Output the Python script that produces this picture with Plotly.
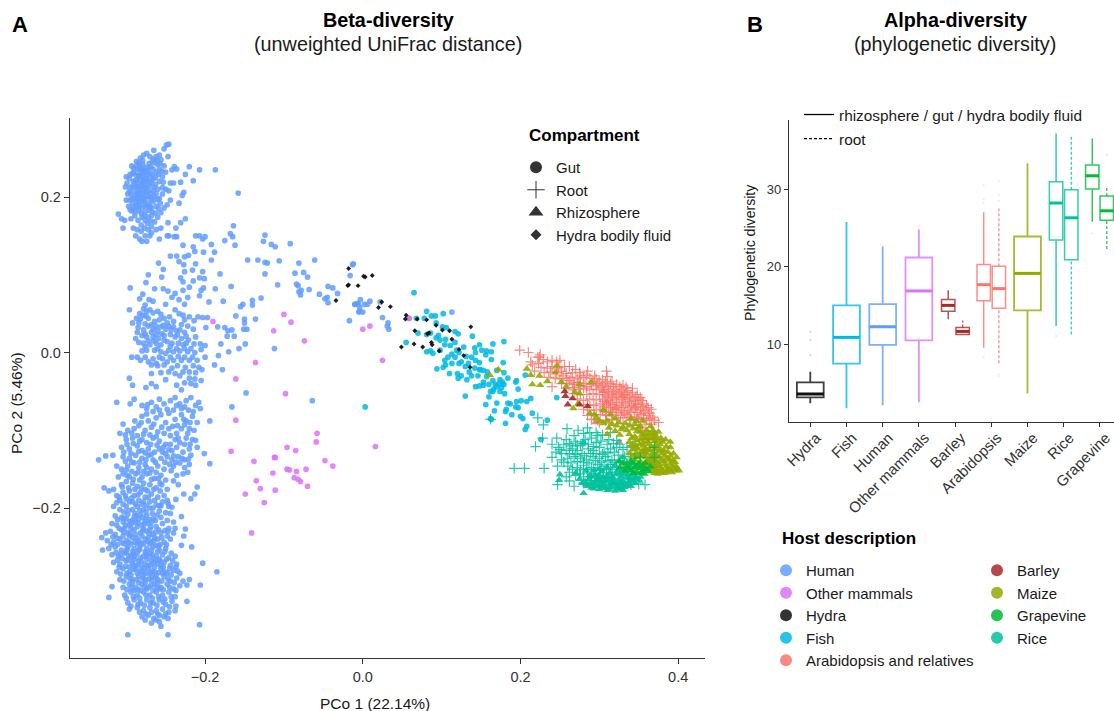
import plotly.graph_objects as go

human_gut = [
(-.187,.235),(-.158,.205),(-.207,.235),(-.220,.239),(-.215,.221),(-.225,.229),(-.231,.219),(-.239,.239),(-.236,.236),(-.242,.235),(-.227,.206),(-.229,.202),(-.233,.192),(-.225,.172),(-.231,.167),(-.237,.160),(-.247,.167),(-.240,.218),(-.246,.268),(-.249,.267),(-.252,.262),(-.265,.260),(-.247,.252),
(-.310,.178),(-.304,.160),(-.301,.213),(-.293,.240),(-.290,.232),(-.287,.246),(-.282,.250),(-.278,.254),(-.274,.256),(-.270,.252),(-.262,.252),(-.258,.254),(-.256,.248),(-.252,.240),(-.250,.232),(-.254,.226),(-.258,.220),(-.263,.216),(-.266,.223),(-.270,.230),(-.275,.238),(-.279,.242),(-.283,.236),(-.287,.228),(-.291,.220),(-.295,.212),(-.298,.204),(-.300,.196),(-.297,.188),(-.293,.182),(-.289,.176),(-.285,.170),(-.281,.164),(-.277,.160),(-.272,.158),(-.268,.162),(-.264,.168),(-.260,.174),(-.256,.180),(-.252,.186),(-.248,.190),(-.244,.196),(-.250,.210),(-.254,.204),(-.258,.198),(-.262,.204),(-.266,.208),(-.270,.214),(-.274,.220),(-.278,.226),(-.282,.222),(-.286,.216),(-.290,.210),(-.294,.204),(-.290,.198),(-.286,.204),(-.282,.210),(-.278,.216),(-.274,.206),(-.270,.200),(-.266,.194),(-.262,.188),(-.268,.186),(-.272,.192),(-.276,.198),(-.280,.200),(-.284,.194),(-.288,.188),(-.292,.192),(-.296,.196),(-.280,.186),(-.276,.180),(-.272,.174),(-.268,.176),(-.284,.182),(-.280,.174),(-.276,.170),(-.286,.236),(-.282,.232),(-.278,.234),(-.274,.228),(-.270,.224),(-.266,.236),(-.262,.232),(-.258,.236),(-.254,.212),(-.246,.208),(-.244,.218),(-.300,.226),(-.296,.224),(-.292,.230),(-.288,.214),(-.284,.204),(-.276,.212),(-.272,.208),(-.268,.218),(-.264,.244),(-.260,.242),(-.284,.244),(-.280,.218),(-.276,.190),(-.260,.210),(-.306,.172),(-.302,.170),(-.294,.172),(-.291,.160),(-.286,.158),(-.281,.156),(-.276,.150),(-.274,.143),(-.280,.143),(-.283,.146),(-.288,.150),(-.270,.150),(-.258,.146),(-.262,.158),(-.268,.154),(-.256,.160),(-.246,.150),
(-.287,.222),(-.283,.227),(-.279,.231),(-.275,.224),(-.271,.219),(-.267,.229),(-.263,.225),(-.259,.229),(-.255,.233),(-.281,.214),(-.285,.209),(-.289,.203),(-.293,.198),(-.277,.207),(-.273,.201),(-.269,.205),(-.265,.201),(-.261,.197),(-.257,.192),(-.283,.199),(-.279,.194),(-.275,.187),(-.271,.183),(-.287,.193),(-.291,.186),(-.295,.184),(-.277,.222),(-.273,.234),(-.269,.239),(-.265,.249),(-.261,.247),(-.257,.243),(-.253,.219),(-.279,.204),(-.283,.189),(-.267,.181),(-.263,.179),(-.259,.185),(-.273,.166),(-.277,.175),(-.269,.169),(-.281,.179),(-.285,.187),(-.289,.181),(-.299,.218),(-.295,.229),(-.291,.237),(-.287,.240),(-.283,.241),(-.279,.247),(-.271,.243),(-.267,.246),(-.272,.237),(-.276,.232),(-.280,.237),(-.284,.228),(-.288,.221),(-.292,.214),(-.296,.207),(-.286,.198),(-.278,.196),(-.274,.213),(-.264,.212),(-.268,.197),(-.270,.188),
(-.164,.163),(-.168,.153),(-.165,.149),(-.175,.144),(-.162,.138),(-.124,.151),(-.126,.143),(-.116,.139),(-.111,.136),(-.092,.140),(-.146,.119),(-.133,.119),(-.124,.116),(-.121,.115),(-.106,.118),(-.081,.115),(-.061,.119),(-.086,.102),(-.075,.103),(-.070,.097),(-.124,.101),(-.108,.087),(-.084,.088),(-.082,.086),(-.078,.080),(-.081,.078),(-.079,.074),(-.068,.081),(-.055,.075),(-.044,.085),(-.038,.083),(-.032,.076),(-.045,.071),(-.048,.069),(-.044,.064),(-.013,.113),(-.016,.099),(-.017,.041),(-.010,.062),(-.006,.063),(-.004,.053),
(-.129,.070),(-.140,.067),(-.140,.061),(-.152,.062),(-.155,.059),(-.161,.047),(-.136,.043),(-.150,.043),(-.150,.038),(-.151,.030),(-.147,.030),(-.167,.085),(-.181,.101),(-.177,.066),(-.195,.065),(-.187,.082),(-.112,.005),(-.149,.011),(-.157,.005),(-.170,.001),(-.183,-.004),(-.188,-.016),(-.178,-.022),(-.180,.011),(-.172,.021),(-.163,.021),(-.166,.029),(-.171,.028),(-.175,.032),(-.184,.033),(-.199,.032),(-.197,.045),(-.203,.045),(-.209,.046),
(-.212,.150),(-.207,.150),(-.200,.149),(-.203,.146),(-.192,.139),(-.188,.129),(-.202,.129),(-.213,.130),(-.215,.136),(-.228,.138),(-.236,.149),(-.239,.149),(-.248,.150),(-.244,.124),(-.236,.124),(-.226,.123),(-.221,.125),(-.233,.117),(-.227,.113),(-.212,.114),(-.192,.119),(-.259,.115),(-.253,.107),(-.255,.097),(-.272,.100),(-.275,.090),(-.295,.083),(-.264,.082),(-.253,.082),(-.247,.079),(-.238,.076),(-.228,.080),(-.226,.104),(-.216,.106),(-.203,.104),(-.207,.096),(-.201,.095),(-.215,.092),(-.231,.096),(-.228,.091),(-.220,.084),(-.202,.083),(-.205,.080),(-.279,.075),(-.283,.069),(-.271,.068),(-.266,.066),(-.276,.061),(-.242,.071),(-.233,.068),(-.222,.071),(-.207,.073),(-.250,.062),(-.226,.062),(-.238,.055),(-.296,.055),
(-.278,.056),(-.274,.053),(-.270,.055),(-.283,.050),(-.279,.048),(-.275,.047),(-.287,.044),(-.282,.043),(-.272,.044),(-.266,.051),(-.260,.053),(-.256,.049),(-.252,.044),(-.258,.042),(-.264,.040),(-.245,.046),(-.240,.040),(-.248,.038),(-.253,.035),(-.233,.050),(-.228,.048),(-.226,.042),(-.220,.046),(-.214,.041),(-.230,.036),(-.222,.034),(-.215,.030),(-.285,.032),(-.278,.029),(-.272,.034),(-.266,.030),(-.260,.028),(-.250,.030),(-.243,.029),(-.236,.028),(-.226,.026),(-.280,.022),(-.274,.020),(-.266,.020),(-.259,.018),(-.252,.022),(-.238,.020),(-.230,.018),(-.221,.016),(-.212,.020),(-.206,.011),(-.200,.009),(-.284,.013),(-.278,.012),(-.270,.010),(-.262,.012),(-.256,.010),(-.248,.014),(-.242,.012),(-.236,.005),(-.228,.010),(-.218,.005),(-.205,.004),(-.280,.002),(-.274,.003),(-.264,.003),(-.256,.001),(-.250,-.001),(-.240,.001),(-.232,.002),(-.222,.001),(-.213,.000),(-.293,-.006),(-.286,-.006),(-.272,-.012),(-.266,-.008),(-.258,-.006),(-.248,-.012),(-.240,-.010),(-.230,-.010),(-.220,-.010),(-.210,-.010),(-.200,-.006),(-.268,-.016),(-.260,-.017),(-.252,-.016),(-.242,-.020),(-.235,-.017),(-.225,-.019),(-.215,-.017),(-.208,-.019),(-.204,-.022),(-.296,-.033),(-.292,-.042),(-.268,-.027),(-.250,-.035),(-.232,-.030),(-.226,-.039),(-.220,-.033),(-.213,-.034),(-.205,-.036),(-.218,-.040),(-.275,-.045),(-.268,-.040),(-.262,-.044),(-.236,-.042),(-.230,-.048),(-.212,-.042),
(-.012,.114),(-.003,.068),(-.010,.062),(-.007,.063),(.002,.062),(.006,.062),(.009,.066),(-.004,.058),(-.005,.052),(.000,.052),(.025,.045),(.022,.065),(.032,.038),(.031,.034),(.033,.030),(.058,.044),(.113,.052),
(-.148,-.052),(-.166,-.070),(-.064,-.062),(-.194,-.088),(-.194,-.143),(-.201,-.130),(-.210,-.122),(-.212,-.113),(-.210,-.173),(-.213,-.182),(-.218,-.188),(-.227,-.182),(-.237,-.189),(-.247,-.194),(-.242,-.199),(-.244,-.207),(-.230,-.211),(-.225,-.227),(-.227,-.236),(-.217,-.250),(-.230,-.248),(-.203,-.271),(-.185,-.282),(-.206,-.299),(-.220,-.292),(-.223,-.299),(-.207,-.350),(-.247,-.363),(-.298,-.363),(-.223,-.320),(-.237,-.326),(-.335,-.138),(-.326,-.133),(-.317,-.132),(-.312,-.064),(-.328,-.174),(-.322,-.315),(-.318,-.301),(-.331,-.238),(-.330,-.254),
(-.295,-.066),(-.290,-.060),(-.280,-.068),(-.274,-.072),(-.268,-.064),(-.258,-.060),(-.252,-.066),(-.244,-.062),(-.238,-.058),(-.232,-.066),(-.224,-.062),(-.218,-.058),(-.212,-.068),(-.206,-.072),(-.280,-.082),(-.272,-.088),(-.262,-.084),(-.256,-.080),(-.250,-.090),(-.238,-.086),(-.230,-.080),(-.224,-.088),(-.216,-.082),(-.210,-.090),(-.304,-.092),(-.298,-.100),(-.290,-.098),(-.284,-.094),(-.276,-.100),(-.268,-.096),(-.260,-.102),(-.252,-.104),(-.246,-.098),(-.236,-.104),(-.230,-.098),(-.222,-.104),(-.214,-.100),(-.308,-.104),(-.300,-.112),(-.292,-.110),(-.280,-.112),(-.274,-.116),(-.266,-.110),(-.258,-.114),(-.250,-.118),(-.238,-.112),(-.232,-.116),(-.224,-.110),(-.216,-.112),(-.306,-.122),(-.296,-.124),(-.286,-.120),(-.280,-.126),(-.272,-.124),(-.264,-.128),(-.258,-.124),(-.250,-.130),(-.242,-.126),(-.236,-.122),(-.228,-.128),(-.220,-.124),(-.304,-.134),(-.296,-.136),(-.288,-.132),(-.280,-.136),(-.272,-.132),(-.266,-.138),(-.256,-.136),(-.248,-.134),(-.242,-.138),(-.234,-.134),(-.226,-.138),(-.218,-.132),(-.312,-.146),(-.306,-.150),(-.298,-.146),(-.290,-.142),(-.284,-.148),(-.276,-.144),(-.268,-.150),(-.260,-.146),(-.252,-.150),(-.240,-.146),(-.232,-.142),(-.226,-.148),(-.220,-.144),(-.310,-.160),(-.304,-.156),(-.296,-.160),(-.288,-.156),(-.280,-.160),(-.274,-.156),(-.264,-.162),(-.256,-.158),(-.250,-.164),(-.236,-.158),(-.228,-.156),(-.306,-.170),(-.300,-.166),(-.292,-.168),(-.286,-.172),(-.278,-.168),(-.270,-.170),(-.262,-.174),(-.255,-.170),(-.248,-.176),(-.316,-.176),(-.322,-.178),(-.312,-.184),(-.304,-.180),(-.296,-.178),(-.290,-.184),(-.282,-.180),(-.276,-.176),(-.268,-.182),(-.260,-.186),(-.252,-.184),(-.308,-.190),(-.300,-.188),(-.292,-.192),(-.284,-.190),(-.276,-.186),(-.270,-.192),(-.262,-.196),(-.254,-.192),(-.246,-.198),(-.316,-.198),(-.308,-.202),(-.300,-.198),(-.292,-.202),(-.286,-.198),(-.278,-.202),(-.270,-.200),(-.258,-.204),(-.250,-.206),(-.314,-.210),(-.306,-.212),(-.298,-.208),(-.290,-.212),(-.282,-.208),(-.274,-.210),(-.266,-.214),(-.256,-.212),(-.248,-.216),(-.240,-.218),(-.318,-.220),(-.312,-.222),(-.304,-.218),(-.296,-.222),(-.288,-.218),(-.280,-.222),(-.272,-.220),(-.262,-.224),(-.254,-.220),(-.246,-.226),(-.238,-.226),(-.326,-.232),(-.320,-.230),(-.314,-.234),(-.306,-.228),(-.298,-.232),(-.290,-.228),(-.282,-.232),(-.274,-.230),(-.266,-.234),(-.256,-.232),(-.248,-.236),(-.240,-.232),(-.324,-.242),(-.316,-.244),(-.308,-.240),(-.300,-.242),(-.292,-.238),(-.284,-.242),(-.276,-.240),(-.268,-.244),(-.260,-.240),(-.252,-.244),(-.244,-.240),(-.322,-.252),(-.314,-.250),(-.306,-.254),(-.298,-.250),(-.290,-.252),(-.282,-.248),(-.274,-.252),(-.266,-.250),(-.258,-.254),(-.250,-.252),(-.318,-.260),(-.310,-.262),(-.302,-.258),(-.294,-.262),(-.286,-.258),(-.278,-.262),(-.270,-.258),(-.262,-.262),(-.254,-.260),(-.246,-.264),(-.238,-.262),(-.316,-.270),(-.308,-.272),(-.300,-.268),(-.292,-.272),(-.284,-.268),(-.276,-.272),(-.268,-.268),(-.260,-.272),(-.252,-.270),(-.244,-.274),(-.236,-.272),(-.312,-.282),(-.304,-.278),(-.296,-.282),(-.288,-.278),(-.280,-.282),(-.272,-.278),(-.264,-.282),(-.256,-.278),(-.248,-.284),(-.240,-.280),(-.232,-.284),(-.308,-.292),(-.300,-.288),(-.292,-.292),(-.284,-.288),(-.276,-.292),(-.268,-.288),(-.260,-.292),(-.252,-.288),(-.244,-.294),(-.236,-.290),(-.228,-.294),(-.304,-.302),(-.296,-.298),(-.288,-.302),(-.280,-.298),(-.272,-.302),(-.264,-.298),(-.256,-.302),(-.248,-.298),(-.240,-.304),(-.232,-.300),(-.302,-.312),(-.294,-.308),(-.286,-.312),(-.278,-.308),(-.270,-.312),(-.262,-.308),(-.254,-.312),(-.246,-.308),(-.238,-.314),(-.298,-.322),(-.290,-.318),(-.282,-.322),(-.274,-.318),(-.266,-.322),(-.258,-.318),(-.250,-.324),(-.242,-.320),(-.296,-.330),(-.286,-.328),(-.278,-.332),(-.270,-.328),(-.262,-.332),(-.254,-.330),(-.246,-.334),(-.238,-.332),(-.280,-.340),(-.272,-.338),(-.265,-.342),(-.258,-.338),(-.250,-.336),(-.276,-.344),(-.268,-.348),(-.262,-.344),(-.256,-.352),(-.258,-.346),
(-.300,-.214),(-.292,-.216),(-.284,-.214),(-.276,-.216),(-.268,-.218),(-.302,-.226),(-.294,-.226),(-.286,-.224),(-.278,-.226),(-.270,-.228),(-.304,-.236),(-.296,-.236),(-.288,-.234),(-.280,-.236),(-.272,-.238),(-.264,-.238),(-.302,-.246),(-.294,-.246),(-.286,-.246),(-.278,-.246),(-.270,-.246),(-.262,-.248),(-.300,-.256),(-.292,-.256),(-.284,-.254),(-.276,-.256),(-.268,-.254),(-.260,-.256),(-.298,-.266),(-.290,-.266),(-.282,-.264),(-.274,-.266),(-.266,-.264),(-.258,-.266),(-.296,-.276),(-.288,-.274),(-.280,-.276),(-.272,-.274),(-.264,-.276),(-.256,-.274),(-.294,-.286),(-.286,-.284),(-.278,-.286),(-.270,-.284),(-.262,-.286),(-.254,-.284),(-.292,-.296),(-.284,-.296),(-.276,-.296),(-.268,-.294),(-.260,-.296),(-.290,-.306),(-.282,-.306),(-.274,-.304),(-.266,-.306),(-.258,-.304),
(-.303,-.205),(-.297,-.203),(-.289,-.207),(-.283,-.203),(-.275,-.205),(-.267,-.207),(-.261,-.209),(-.311,-.215),(-.303,-.213),(-.295,-.217),(-.287,-.210),(-.279,-.212),(-.271,-.215),(-.263,-.216),(-.309,-.226),(-.301,-.222),(-.293,-.220),(-.285,-.219),(-.277,-.220),(-.269,-.224),(-.259,-.228),(-.251,-.229),(-.317,-.237),(-.311,-.239),(-.303,-.231),(-.295,-.233),(-.287,-.239),(-.279,-.229),(-.271,-.233),(-.263,-.231),(-.255,-.238),(-.247,-.230),(-.319,-.247),(-.311,-.247),(-.305,-.245),(-.297,-.244),(-.289,-.244),(-.281,-.245),(-.273,-.243),(-.265,-.242),(-.257,-.247),(-.249,-.247),(-.313,-.257),(-.307,-.259),(-.299,-.253),(-.291,-.259),(-.283,-.253),(-.275,-.259),(-.267,-.260),(-.259,-.249),(-.251,-.256),(-.243,-.258),(-.311,-.267),(-.305,-.265),(-.297,-.261),(-.289,-.262),(-.281,-.269),(-.273,-.262),(-.265,-.270),(-.257,-.268),(-.249,-.266),(-.241,-.268),(-.309,-.276),(-.301,-.275),(-.293,-.269),(-.285,-.273),(-.277,-.278),(-.269,-.273),(-.261,-.267),(-.253,-.276),(-.245,-.278),(-.237,-.276),(-.307,-.285),(-.299,-.284),(-.291,-.279),(-.283,-.281),(-.275,-.284),(-.267,-.281),(-.259,-.283),(-.251,-.282),(-.243,-.286),(-.235,-.281),(-.303,-.294),(-.295,-.291),(-.287,-.292),(-.279,-.290),(-.271,-.291),(-.263,-.290),(-.255,-.294),(-.247,-.291),(-.239,-.296),(-.299,-.305),(-.293,-.302),(-.285,-.305),(-.277,-.302),(-.269,-.300),(-.261,-.302),(-.253,-.305),(-.245,-.302),(-.237,-.306),(-.300,-.316),(-.291,-.314),(-.283,-.316),(-.275,-.312),(-.267,-.316),(-.259,-.314),(-.251,-.317),(-.243,-.314),(-.294,-.326),(-.285,-.324),(-.277,-.325),(-.269,-.322),(-.261,-.325),(-.253,-.321),(-.245,-.327),(-.283,-.334),(-.275,-.336),(-.268,-.334),(-.260,-.336),(-.252,-.340),(-.247,-.342),
(-.309,-.186),(-.301,-.184),(-.293,-.187),(-.285,-.183),(-.278,-.192),(-.272,-.186),(-.264,-.190),(-.256,-.197),(-.248,-.190),(-.312,-.193),(-.304,-.195),(-.296,-.192),(-.288,-.195),(-.280,-.195),(-.274,-.197),(-.266,-.200),(-.258,-.197),(-.305,-.173),(-.297,-.174),(-.289,-.176),(-.281,-.174),(-.273,-.178),(-.265,-.176),(-.257,-.178),(-.300,-.151),(-.293,-.153),(-.285,-.154),(-.278,-.153),(-.270,-.155),(-.262,-.154),(-.303,-.128),(-.294,-.130),(-.284,-.127),(-.276,-.129),(-.268,-.131),(-.254,-.128),(-.246,-.125),(-.240,-.133),(-.293,-.104),(-.286,-.107),(-.278,-.105),(-.270,-.106),(-.262,-.108),(-.244,-.107),(-.235,-.094),(-.226,-.093),(-.220,-.098),(-.274,-.079),(-.266,-.076),(-.258,-.074),(-.248,-.073),(-.240,-.074),(-.230,-.072),(-.221,-.074),
(-.292,.038),(-.284,.038),(-.276,.037),(-.268,.036),(-.262,.034),(-.256,.033),(-.246,.034),(-.240,.033),(-.232,.029),(-.286,.026),(-.276,.024),(-.268,.026),(-.262,.023),(-.255,.024),(-.244,.023),(-.235,.023),(-.224,.021),(-.288,.018),(-.272,.015),(-.265,.015),(-.252,.016),(-.244,.008),(-.234,.012),(-.224,.012),(-.214,.011),(-.276,.008),(-.260,.005),(-.246,.003),(-.226,.005),(-.282,-.010),(-.276,-.006),(-.262,-.014),(-.254,-.008),(-.244,-.006),(-.234,-.005),(-.226,-.006),(-.216,-.006),(-.256,-.026),(-.246,-.025),(-.238,-.027),(-.228,-.025),(-.220,-.025),(-.212,-.026),
(-.301,-.140),(-.293,-.141),(-.283,-.141),(-.275,-.138),(-.263,-.141),(-.251,-.141),(-.245,-.144),(-.237,-.141),(-.229,-.136),(-.221,-.137),(-.299,-.118),(-.291,-.117),(-.283,-.114),(-.269,-.118),(-.261,-.119),(-.253,-.122),(-.244,-.118),(-.234,-.110),(-.226,-.118),(-.219,-.118),(-.301,-.106),(-.289,-.088),(-.281,-.090),(-.265,-.092),(-.255,-.096),(-.241,-.095),(-.227,-.086),(-.219,-.090),(-.273,-.067),(-.262,-.070),(-.246,-.078),(-.236,-.068),(-.226,-.070),(-.215,-.076),(-.208,-.064),(-.259,-.162),(-.268,-.163),(-.283,-.164),(-.291,-.163),(-.299,-.158),(-.274,-.148),(-.257,-.168),(-.243,-.152),(-.222,-.154),(-.240,-.165),(-.234,-.170)]

mammals_gut = [(-.190,.040),(-.100,.049),(-.091,.039),(-.113,.028),(-.074,.015),(-.136,-.013),(-.161,-.034),(-.098,-.053),(-.161,-.087),(-.058,-.104),(-.059,-.115),(-.096,-.122),(-.085,-.126),(-.167,-.127),(-.138,-.140),(-.112,-.135),(-.111,-.135),(-.048,-.139),(-.038,-.146),(-.114,-.155),(-.096,-.150),(-.093,-.151),(-.084,-.153),(-.072,-.150),(-.087,-.161),(-.082,-.163),(-.079,-.166),(-.135,-.165),(-.130,-.175),(-.111,-.177),(-.070,-.172),(-.149,-.182),(-.125,-.193),(-.141,-.232),(.000,.030),(.009,.034),(.025,-.010),(.016,-.121),(.059,.044)]

hydra_fluid = [(-.018,.108),(.003,.097),(.001,.098),(.012,.099),(-.018,.087),(-.019,.086),(-.006,.086),(.024,.065),(.020,.058),(.035,.059),(.055,.048),(.054,.043),(.069,.043),(.081,.042),(.137,.033),(.066,.028),(.093,.035),(.101,.029),(.110,.028),(.082,.024),(.084,.025),(.113,.017),(.087,.013),(.088,.010),(.065,.011),(.076,.007),(.049,.007),(.097,.002),(.122,.004),(.128,-.004),(.136,-.019),(-.034,.067)]

fish_gut = [(.065,.077),(.003,-.070),(.081,.053),(.087,.047),(.092,.047),(.102,.050),(.078,.044),(.068,.044),(.093,.038),(.101,.033),(.106,.032),(.117,.027),(.121,.024),(.070,.025),(.081,.023),(.086,.025),(.096,.022),(.093,.019),(.139,.021),(.055,.013),(.105,.017),(.098,.016),(.117,.013),(.104,.010),(.111,.009),(.165,.011),(.179,.014),(.148,.010),(.128,.007),(.142,.006),(.081,.001),(.089,-.001),(.086,.002),(.098,.003),(.113,-.002),(.119,.003),(.122,.000),(.151,.003),(.143,.000),(.157,.002),(.163,.001),(.108,-.006),(.104,-.010),(.117,-.006),(.131,-.005),(.138,-.006),(.148,-.013),(.156,-.003),(.163,-.009),(.178,-.013),(.143,-.010),(.113,-.014),(.122,-.014),(.105,-.016),(.102,-.019),(.094,-.021),(.134,-.014),(.142,-.020),(.149,-.022),(.153,-.023),(.158,-.025),(.170,-.023),(.179,-.026),(.110,-.027),(.120,-.027),(.125,-.030),(.138,-.030),(.121,-.033),(.132,-.035),(.157,-.031),(.153,-.038),(.165,-.036),(.174,-.035),(.184,-.033),(.195,-.036),(.194,-.038),(.206,-.029),(.179,-.041),(.173,-.040),(.177,-.038),(.143,-.044),(.148,-.043),(.153,-.042),(.166,-.047),(.162,-.050),(.170,-.044),(.130,-.056),(.160,-.057),(.174,-.050),(.180,-.053),(.197,-.047),(.246,-.058),(.165,-.050),(.156,-.067),(.170,-.065),(.184,-.065),(.187,-.066),(.195,-.063),(.201,-.062),(.213,-.059),(.208,-.063),(.182,-.073),(.194,-.070),(.197,-.071),(.167,-.075),(.181,-.076),(.189,-.080),(.200,-.082),(.215,-.078),(.203,-.085),(.162,-.085),(.163,-.086),(.181,-.091),(.234,-.087),(.208,-.095),(.206,-.099),(.226,-.112),(.280,-.116),(.148,-.022),(.130,-.018),(.125,-.012),(.135,-.025),(.146,-.030),(.168,-.041),(.176,-.045),(.160,-.041)]

arabidopsis_root = [(.199,.003),(.210,.000),(.225,-.003),(.224,-.006),(.222,-.006),(.213,-.012),(.215,-.016),(.223,-.014),(.229,-.009),(.234,-.012),(.240,-.010),(.246,-.012),(.250,-.010),(.226,-.019),(.234,-.020),(.240,-.018),(.248,-.019),(.256,-.018),(.262,-.018),(.270,-.022),(.218,-.024),(.230,-.026),(.238,-.025),(.246,-.026),(.252,-.024),(.258,-.027),(.266,-.026),(.275,-.026),(.285,-.024),(.309,-.024),(.294,-.030),(.236,-.032),(.244,-.033),(.250,-.034),(.258,-.033),(.264,-.032),(.272,-.034),(.280,-.032),(.288,-.033),(.296,-.034),(.304,-.035),(.310,-.031),(.252,-.040),(.260,-.040),(.268,-.041),(.274,-.039),(.282,-.040),(.290,-.041),(.298,-.040),(.306,-.042),(.314,-.040),(.322,-.041),(.330,-.042),(.240,-.044),(.258,-.046),(.266,-.048),(.274,-.047),(.280,-.046),(.288,-.048),(.296,-.047),(.304,-.048),(.312,-.047),(.320,-.048),(.328,-.047),(.336,-.049),(.342,-.046),(.268,-.053),(.276,-.054),(.284,-.054),(.292,-.053),(.300,-.054),(.308,-.055),(.316,-.054),(.324,-.053),(.332,-.054),(.340,-.055),(.348,-.054),(.352,-.058),(.272,-.060),(.280,-.062),(.288,-.060),(.296,-.061),(.304,-.060),(.312,-.062),(.320,-.060),(.328,-.061),(.336,-.060),(.344,-.062),(.350,-.060),(.285,-.067),(.293,-.068),(.301,-.066),(.309,-.068),(.317,-.067),(.325,-.068),(.333,-.066),(.341,-.068),(.349,-.067),(.355,-.066),(.360,-.068),(.280,-.073),(.288,-.074),(.296,-.074),(.304,-.073),(.312,-.075),(.320,-.073),(.328,-.074),(.336,-.075),(.344,-.073),(.352,-.074),(.358,-.075),(.366,-.073),(.285,-.081),(.293,-.080),(.301,-.080),(.309,-.081),(.317,-.080),(.327,-.081),(.335,-.080),(.345,-.082),(.353,-.080),(.362,-.081),(.368,-.083),(.290,-.086),(.298,-.087),(.308,-.087),(.316,-.086),(.340,-.087),(.350,-.086),(.360,-.087),(.370,-.087),(.375,-.090),(.300,-.090),(.312,-.091),(.358,-.092),(.366,-.092),(.355,-.100),(.362,-.110),
(.306,-.051),(.312,-.052),(.318,-.050),(.326,-.051),(.334,-.051),(.342,-.052),(.310,-.057),(.316,-.058),(.322,-.056),(.330,-.058),(.338,-.058),(.346,-.057),(.306,-.063),(.314,-.065),(.322,-.064),(.330,-.064),(.338,-.063),(.346,-.065),(.354,-.062),(.306,-.070),(.314,-.071),(.322,-.070),(.330,-.071),(.338,-.070),(.346,-.071),(.354,-.070),(.362,-.071),(.308,-.077),(.316,-.077),(.324,-.077),(.332,-.078),(.340,-.077),(.348,-.077),(.356,-.078),(.364,-.078),(.322,-.084),(.330,-.084),(.338,-.083),(.348,-.084),(.356,-.084),(.364,-.085),(.296,-.043),(.302,-.045),(.310,-.044),(.318,-.044),(.326,-.044),(.334,-.045),(.292,-.037),(.300,-.038),(.308,-.038),(.316,-.037),(.276,-.030),(.284,-.029),(.268,-.038),(.262,-.036),(.254,-.030),(.246,-.021),(.268,-.045),(.276,-.043),(.284,-.044)]
arabidopsis_rhizo = [(.295,-.090),(.325,-.115),(.310,-.064),(.330,-.055),(.345,-.070),(.320,-.072),(.305,-.050)]

barley_rhizo = [(.256,-.050),(.257,-.056),(.266,-.059),(.260,-.067),(.275,-.067),(.285,-.069)]

maize_rhizo = [(.161,-.029),(.172,-.022),(.208,-.021),(.213,-.029),(.224,-.030),(.215,-.041),(.225,-.042),(.234,-.037),(.246,-.017),(.244,-.026),(.252,-.038),(.258,-.044),(.275,-.041),(.290,-.038),(.275,-.053),(.269,-.051),(.267,-.072),(.273,-.066),(.288,-.078),(.294,-.080),(.305,-.074),(.314,-.080),(.312,-.097),(.310,-.105),(.320,-.085),(.325,-.090),(.330,-.096),(.335,-.100),(.320,-.101),(.326,-.106),(.340,-.085),(.345,-.092),(.350,-.096),(.355,-.088),(.338,-.105),(.345,-.108),(.352,-.102),(.360,-.100),(.365,-.095),(.370,-.104),(.338,-.115),(.345,-.118),(.352,-.112),(.360,-.110),(.367,-.106),(.375,-.102),(.378,-.110),(.342,-.125),(.349,-.124),(.356,-.120),(.363,-.118),(.370,-.114),(.377,-.118),(.384,-.112),(.390,-.115),(.338,-.130),(.350,-.132),(.357,-.128),(.364,-.126),(.371,-.124),(.378,-.125),(.385,-.121),(.390,-.122),(.345,-.138),(.352,-.140),(.359,-.135),(.366,-.134),(.373,-.132),(.380,-.130),(.387,-.128),(.394,-.130),(.398,-.135),(.358,-.143),(.365,-.142),(.372,-.140),(.379,-.138),(.386,-.136),(.393,-.139),(.362,-.150),(.369,-.148),(.376,-.146),(.383,-.144),(.390,-.143),(.397,-.146),(.366,-.153),(.373,-.153),(.380,-.152),(.387,-.150),(.394,-.149),(.401,-.152),(.392,-.154),(.383,-.155),(.374,-.156),
(.296,-.084),(.300,-.088),(.305,-.091),(.310,-.088),(.316,-.092),(.322,-.094),(.328,-.099),(.333,-.091),(.338,-.094),(.343,-.098),(.348,-.101),(.354,-.106),(.358,-.105),(.363,-.104),(.368,-.100),(.372,-.108),(.341,-.110),(.347,-.113),(.356,-.116),(.361,-.114),(.365,-.111),(.369,-.110),(.374,-.113),(.340,-.120),(.346,-.122),(.351,-.118),(.358,-.124),(.366,-.121),(.372,-.119),(.380,-.115),(.342,-.133),(.347,-.129),(.354,-.127),(.360,-.130),(.368,-.129),(.375,-.127),(.382,-.126),(.348,-.134),(.355,-.133),(.362,-.138),(.369,-.136),(.376,-.135),(.383,-.133),(.390,-.133),(.350,-.143),(.356,-.146),(.361,-.141),(.368,-.144),(.375,-.142),(.382,-.140),(.389,-.138),(.396,-.141),(.358,-.149),(.364,-.146),(.371,-.150),(.378,-.149),(.385,-.147),(.392,-.146),(.399,-.149),(.370,-.155),(.377,-.154),(.385,-.153),(.390,-.152),(.397,-.152),(.372,-.146),(.366,-.138),(.361,-.126),(.356,-.110),(.352,-.095),(.347,-.088)]

rice_root = [(.162,-.086),(.222,-.084),(.229,-.093),(.219,-.121),(.228,-.110),(.192,-.149),(.205,-.149),(.230,-.149),(.259,-.098),(.273,-.100),(.285,-.097),(.246,-.110),(.258,-.112),(.268,-.107),(.280,-.104),(.296,-.103),(.304,-.106),(.314,-.103),(.240,-.118),(.248,-.122),(.255,-.118),(.262,-.117),(.270,-.115),(.276,-.120),(.282,-.112),(.290,-.110),(.296,-.116),(.302,-.114),(.312,-.112),(.322,-.113),(.245,-.128),(.252,-.130),(.258,-.126),(.266,-.124),(.272,-.126),(.278,-.130),(.286,-.124),(.292,-.126),(.300,-.122),(.306,-.128),(.314,-.124),(.322,-.122),(.330,-.125),(.342,-.120),(.240,-.135),(.252,-.138),(.260,-.136),(.268,-.134),(.276,-.136),(.284,-.138),(.292,-.134),(.300,-.136),(.308,-.134),(.316,-.138),(.324,-.132),(.332,-.134),(.340,-.130),(.368,-.125),(.368,-.133),(.247,-.146),(.260,-.146),(.272,-.148),(.280,-.145),(.290,-.148),(.298,-.144),(.306,-.146),(.314,-.144),(.322,-.148),(.330,-.142),(.338,-.146),(.345,-.143),(.360,-.142),(.262,-.154),(.275,-.156),(.285,-.155),(.295,-.156),(.305,-.155),(.315,-.154),(.325,-.156),(.335,-.153),(.345,-.155),(.350,-.148),(.247,-.170),(.262,-.165),(.268,-.172),(.280,-.168),(.290,-.165),(.300,-.166),(.340,-.170),(.350,-.169),(.358,-.170),(.345,-.163),(.330,-.172),
(.264,-.120),(.272,-.119),(.279,-.117),(.286,-.118),(.293,-.121),(.250,-.125),(.262,-.130),(.270,-.131),(.281,-.133),(.289,-.130),(.296,-.130),(.304,-.131),(.311,-.129),(.319,-.128),(.255,-.141),(.264,-.142),(.272,-.140),(.280,-.141),(.287,-.142),(.295,-.139),(.303,-.141),(.311,-.139),(.319,-.141),(.326,-.139),(.266,-.150),(.276,-.151),(.284,-.150),(.293,-.151),(.301,-.149),(.309,-.151),(.317,-.150),(.270,-.158),(.280,-.160),(.258,-.160),(.298,-.107),(.288,-.103),(.310,-.118),(.318,-.117),(.326,-.118),(.335,-.122),(.340,-.137)]
rice_rhizo = [(.250,-.157),(.249,-.164),(.280,-.181),(.270,-.155),(.283,-.152),(.288,-.158),(.293,-.152),(.298,-.160),(.303,-.153),(.308,-.161),(.313,-.155),(.318,-.162),(.323,-.152),(.328,-.160),(.333,-.153),(.338,-.162),(.343,-.156),(.275,-.163),(.282,-.166),(.287,-.163),(.292,-.168),(.297,-.163),(.302,-.170),(.307,-.165),(.312,-.171),(.317,-.166),(.322,-.172),(.327,-.167),(.332,-.173),(.337,-.168),(.342,-.165),(.347,-.160),(.352,-.160),(.285,-.172),(.290,-.174),(.295,-.171),(.300,-.176),(.305,-.172),(.310,-.177),(.315,-.173),(.320,-.178),(.325,-.174),(.330,-.177),(.335,-.172),(.340,-.172),(.345,-.168),(.315,-.168),(.320,-.168),(.325,-.163),(.330,-.165),(.335,-.161),(.310,-.165),(.305,-.160),(.300,-.158),(.295,-.158),(.290,-.160),(.300,-.150),(.310,-.148),(.320,-.145),(.330,-.150),(.330,-.135),(.340,-.148),
(.296,-.166),(.301,-.164),(.306,-.168),(.311,-.160),(.316,-.160),(.321,-.157),(.326,-.155),(.331,-.157),(.336,-.157),(.341,-.160),(.346,-.163),(.351,-.165),(.318,-.170),(.323,-.175),(.328,-.170),(.333,-.169),(.338,-.165),(.308,-.174),(.303,-.174),(.298,-.172),(.293,-.175),(.288,-.169),(.283,-.170),(.278,-.168),(.313,-.176),(.328,-.176),(.303,-.166),(.313,-.163),(.323,-.168)]

grapevine_rhizo = [(.325,-.140),(.330,-.143),(.335,-.146),(.340,-.140),(.345,-.148),(.350,-.143),(.355,-.146),(.360,-.150),(.365,-.147),(.340,-.152),(.347,-.154),(.355,-.152),(.362,-.153),(.332,-.152),(.326,-.148),(.343,-.143),(.352,-.149),(.358,-.142),(.337,-.149),(.348,-.146),(.353,-.155),(.343,-.155),(.335,-.142),(.357,-.156)]
grapevine_root = [(.370,-.122),(.370,-.135),(.345,-.136),(.352,-.135)]

# Alpha-diversity boxes
hosts = ["Hydra","Fish","Human","Other mammals","Barley","Arabidopsis","Maize","Rice","Grapevine"]
box_host = ["Hydra","Fish","Human","Other mammals","Barley","Barley","Arabidopsis","Arabidopsis","Maize","Rice","Rice","Grapevine","Grapevine"]
box_dodge = [0,0,0,0,-.19,.21,-.21,.21,0,-.21,.21,-.21,.19]
box_dashed = [False,False,False,False,False,True,False,True,False,False,True,False,True]
box_low = [2.46,1.82,2.2,2.6,13.25,11.3,9.6,7.6,3.75,12.4,11.3,25.8,22.3]
box_q1 = [3.23,7.56,9.96,10.56,14.3,11.3,15.65,14.67,14.4,23.45,20.9,30.0,26.0]
box_med = [3.66,10.94,12.3,16.9,15.05,11.7,17.7,17.2,19.16,28.2,26.3,31.7,27.2]
box_q3 = [5.16,15.05,15.2,21.2,15.8,12.2,20.3,20.06,23.9,30.94,29.9,33.1,29.1]
box_high = [6.53,25.76,22.6,24.8,17.0,13.1,27.0,27.5,33.3,37.15,36.9,36.5,30.2]
box_outliers = [[8.67,10.6,11.67],[],[],[],[],[],[8.4,28.2,28.7,30.5],[5.9,6.2,28.5,29.2,31.0],[],[11.1],[],[24.3],[34.4]]

colors = {"Human":"#619CFF","Other mammals":"#DB72FB","Hydra":"#111111","Fish":"#00B9E3",
          "Arabidopsis":"#F8766D","Barley":"#A52A2A","Maize":"#93AA00","Grapevine":"#00BA38","Rice":"#00C19F"}

FONT = "Liberation Sans, Arial, sans-serif"
TXT = "#1a1a1a"
AX = "#333333"
W, H = 1114, 711
def fx(px): return px / W
def fy(py): return 1 - py / H

fig = go.Figure()

def xs(p): return [a for a, _ in p]
def ys(p): return [b for _, b in p]

def gut(p, host, size=5.7):
    fig.add_trace(go.Scatter(x=xs(p), y=ys(p), mode="markers", showlegend=False, name=host,
        marker=dict(symbol="circle", size=size, color=colors[host], opacity=.85, line=dict(width=0))))
def root(p, host):
    fig.add_trace(go.Scatter(x=xs(p), y=ys(p), mode="markers", showlegend=False, name=host,
        marker=dict(symbol="cross-thin", size=7.5, color=colors[host], opacity=.85, line=dict(width=1.2, color=colors[host]))))
def rhizo(p, host):
    fig.add_trace(go.Scatter(x=xs(p), y=ys(p), mode="markers", showlegend=False, name=host,
        marker=dict(symbol="triangle-up", size=7.5, color=colors[host], opacity=.9, line=dict(width=0))))

gut(human_gut, "Human")
gut(mammals_gut, "Other mammals")
gut(fish_gut, "Fish")
root(arabidopsis_root, "Arabidopsis")
rhizo(arabidopsis_rhizo, "Arabidopsis")
root(rice_root, "Rice")
rhizo(maize_rhizo, "Maize")
rhizo(barley_rhizo, "Barley")
rhizo(rice_rhizo, "Rice")
root(grapevine_root, "Grapevine")
rhizo(grapevine_rhizo, "Grapevine")
fig.add_trace(go.Scatter(x=xs(hydra_fluid), y=ys(hydra_fluid), mode="markers", showlegend=False, name="Hydra",
    marker=dict(symbol="diamond", size=3.8, color=colors["Hydra"], opacity=.95, line=dict(width=0))))

FULL, HALF = .74, .37
for i, host in enumerate(box_host):
    pos = hosts.index(host) + box_dodge[i]
    w = FULL if box_dodge[i] == 0 else HALF
    c = colors[host]
    lw = 1.8 if box_dodge[i] == 0 else 1.5
    dashed = box_dashed[i]
    fig.add_trace(go.Box(x=[pos], q1=[box_q1[i]], median=[box_med[i]], q3=[box_q3[i]],
        lowerfence=[box_q1[i] if dashed else box_low[i]], upperfence=[box_q3[i] if dashed else box_high[i]],
        width=w, whiskerwidth=0, boxpoints=False, fillcolor="rgba(255,255,255,0)", opacity=.8,
        line=dict(color=c, width=lw), xaxis="x2", yaxis="y2", showlegend=False, name=host))
    if dashed:
        fig.add_trace(go.Scatter(x=[pos, pos, None, pos, pos], y=[box_low[i], box_q1[i], None, box_q3[i], box_high[i]],
            mode="lines", line=dict(color=c, width=1.3, dash="3px,2px"), opacity=.8,
            xaxis="x2", yaxis="y2", showlegend=False, hoverinfo="skip"))
    fig.add_trace(go.Scatter(x=[pos - w/2, pos + w/2], y=[box_med[i], box_med[i]], mode="lines",
        line=dict(color=c, width=3), xaxis="x2", yaxis="y2", showlegend=False, hoverinfo="skip"))
    if box_outliers[i]:
        fig.add_trace(go.Scatter(x=[pos]*len(box_outliers[i]), y=box_outliers[i], mode="markers",
            marker=dict(size=2, color=c, opacity=.2), xaxis="x2", yaxis="y2", showlegend=False, hoverinfo="skip"))

for name, sym, sz in [("Gut","circle",12),("Root","cross-thin",12.5),("Rhizosphere","triangle-up",13),("Hydra bodily fluid","diamond",8.5)]:
    fig.add_trace(go.Scatter(x=[None], y=[None], mode="markers", name=name, legend="legend",
        marker=dict(symbol=sym, size=sz, color="#333333", line=dict(width=1 if sym=="cross-thin" else 0, color="#333333"))))
for name, dash in [("rhizosphere / gut / hydra bodily fluid","solid"),("root","3px,2px")]:
    fig.add_trace(go.Scatter(x=[None], y=[None], mode="lines", name=name, legend="legend2", legendgroup=name,
        line=dict(color="black", width=1.3, dash=dash)))
for name, key in [("Human","Human"),("Other mammals","Other mammals"),("Hydra","Hydra"),("Fish","Fish"),("Arabidopsis and relatives","Arabidopsis")]:
    fig.add_trace(go.Scatter(x=[None], y=[None], mode="markers", name=name, legend="legend3",
        marker=dict(symbol="circle", size=12, color=colors[key], opacity=.85)))
for name in ["Barley","Maize","Grapevine","Rice"]:
    fig.add_trace(go.Scatter(x=[None], y=[None], mode="markers", name=name, legend="legend4",
        marker=dict(symbol="circle", size=12, color=colors[name], opacity=.85)))

def leg(x_px, y_px, size=15, gap=0):
    return dict(x=fx(x_px), y=fy(y_px), xanchor="left", yanchor="top", bgcolor="rgba(0,0,0,0)",
                font=dict(family=FONT, size=size, color=TXT), itemsizing="trace", tracegroupgap=gap,
                itemclick=False, itemdoubleclick=False)

def note(text, x_px, y_px, size, bold=False, angle=0, anchor="center"):
    return dict(text=f"<b>{text}</b>" if bold else text, x=fx(x_px), y=fy(y_px), xref="paper", yref="paper",
                showarrow=False, xanchor=anchor, yanchor="middle", textangle=angle,
                font=dict(family=FONT, size=size, color="#000000" if bold else TXT))

axis_style = dict(showgrid=False, zeroline=False, showline=True, linecolor=AX, linewidth=1.4,
                  ticks="outside", ticklen=5, tickwidth=1.2, tickcolor=AX,
                  tickfont=dict(family=FONT, size=14.5, color="#333333"))
axis_b = {**axis_style, "ticklen": 4}

fig.update_layout(
    width=W, height=H, margin=dict(l=0, r=0, t=0, b=0, autoexpand=False), paper_bgcolor="white", plot_bgcolor="white",
    boxmode="overlay", hovermode="closest",
    xaxis=dict(domain=[fx(70), fx(705)], range=[-.3713, .434], tickvals=[-.2, 0, .2, .4], tickformat=".1f", **axis_style),
    yaxis=dict(domain=[fy(658), fy(118)], range=[-.3929, .3016], tickvals=[-.2, 0, .2], tickformat=".1f", **axis_style),
    xaxis2=dict(domain=[fx(789), 1], range=[-.588, 8.39], tickvals=list(range(len(hosts))), ticktext=hosts, tickangle=-45, anchor="y2",
                ticklabelshift=6, ticklabelstandoff=-4, **{**axis_b, "tickfont": dict(family=FONT, size=15, color="#333333")}),
    yaxis2=dict(domain=[fy(422), fy(120)], range=[.06, 38.87], tickvals=[10, 20, 30], anchor="x2",
                **{**axis_b, "tickfont": dict(family=FONT, size=13, color="#333333")}),
    legend=leg(516, 151, 15),
    legend2=leg(799, 98, 15.4, 1),
    legend3=leg(766, 554, 15),
    legend4=leg(977, 554, 15),
    annotations=[
        note("A", 20, 25, 22, True),
        note("B", 755, 24, 22, True),
        note("Beta-diversity", 388, 20, 19.8, True),
        note("(unweighted UniFrac distance)", 388, 44, 19.8),
        note("Alpha-diversity", 955, 20, 19.8, True),
        note("(phylogenetic diversity)", 955, 44, 19.8),
        note("PCo 1 (22.14%)", 375, 703, 15.5),
        note("PCo 2 (5.46%)", 16, 403, 15.5, angle=-90),
        note("Phylogenetic diversity", 750, 253, 14.1, angle=-90),
        note("Compartment", 527, 136, 17, True, anchor="left"),
        note("Host description", 780, 538, 17, True, anchor="left"),
    ])

fig.write_html("out.html", config={"displayModeBar": False}, post_script="document.body.style.margin='0';")
